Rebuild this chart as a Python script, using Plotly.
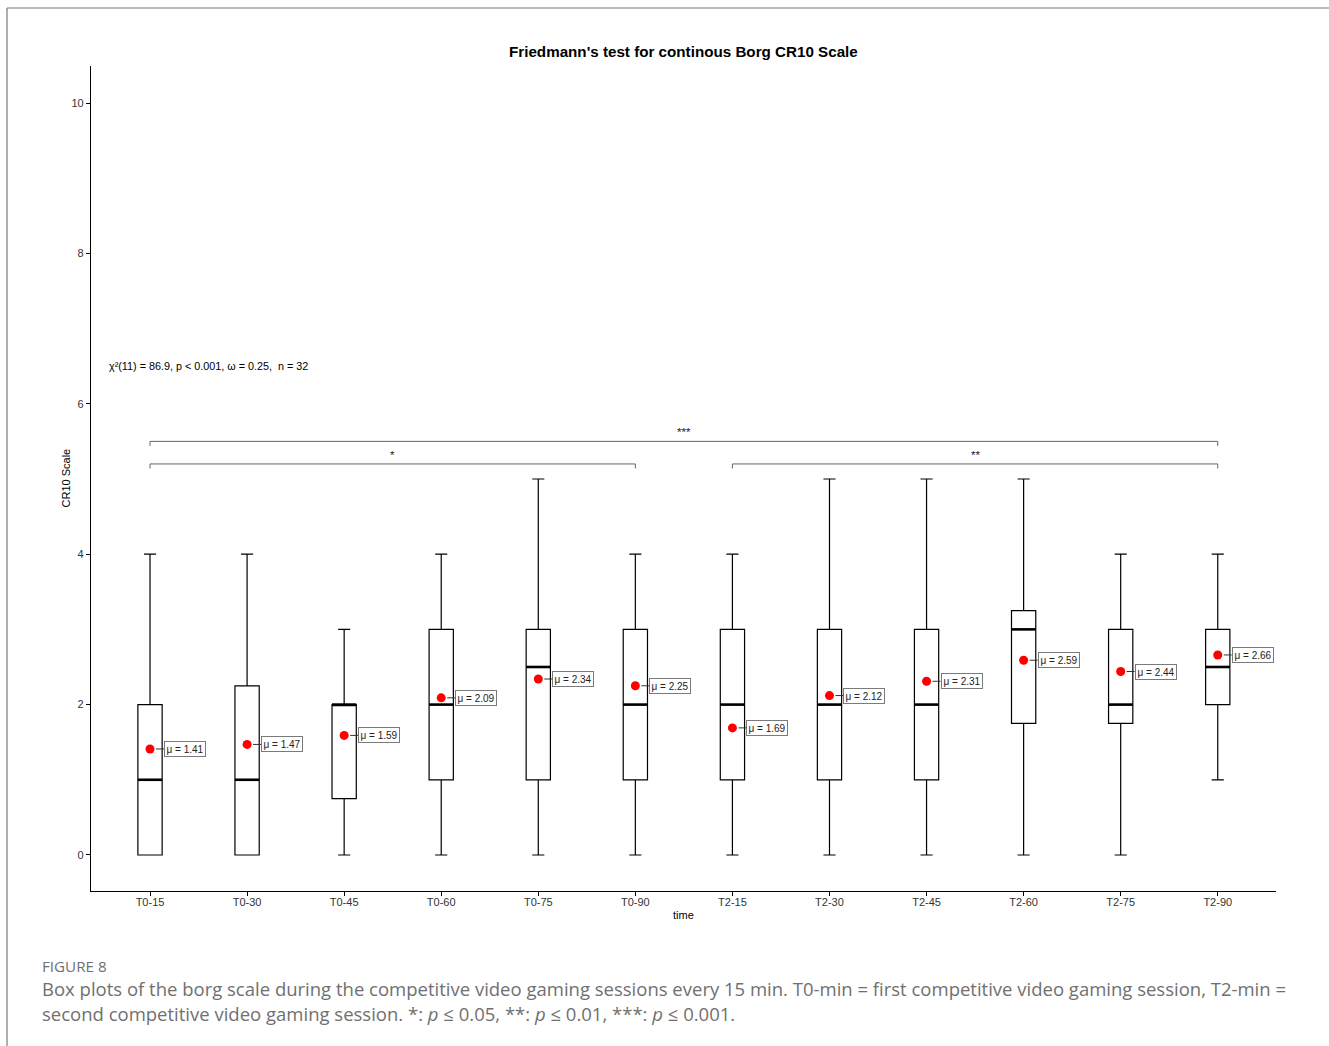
import plotly.graph_objects as go

# Time points of the two gaming sessions
categories = ["T0-15", "T0-30", "T0-45", "T0-60", "T0-75", "T0-90",
              "T2-15", "T2-30", "T2-45", "T2-60", "T2-75", "T2-90"]

# Box-plot summary statistics of the Borg CR10 ratings
lower_whisker = [0, 0, 0, 0, 0, 0, 0, 0, 0, 0, 0, 1]
q1_values     = [0, 0, 0.75, 1, 1, 1, 1, 1, 1, 1.75, 1.75, 2]
median_values = [1, 1, 2, 2, 2.5, 2, 2, 2, 2, 3, 2, 2.5]
q3_values     = [2, 2.25, 2, 3, 3, 3, 3, 3, 3, 3.25, 3, 3]
upper_whisker = [4, 4, 3, 4, 5, 4, 4, 5, 5, 5, 4, 4]
mean_values   = [1.41, 1.47, 1.59, 2.09, 2.34, 2.25, 1.69, 2.12, 2.31, 2.59, 2.44, 2.66]

# Pairwise comparison brackets: (from, to, height, label)
brackets = [("T0-15", "T2-90", 5.5, "***"),
            ("T0-15", "T0-90", 5.2, "*"),
            ("T2-15", "T2-90", 5.2, "**")]

stats_text = "χ²(11) = 86.9, p < 0.001, ω = 0.25,  n = 32"
title_text = "Friedmann's test for continous Borg CR10 Scale"
y_ticks = [0, 2, 4, 6, 8, 10]

W, H = 1329, 1046
ML, MR, MT, MB = 91, 53, 66, 155
box_width = 0.25
SANS = "Liberation Sans, Arial"
CAP_FONT = "Open Sans"

pos = list(range(len(categories)))
idx = {c: i for i, c in enumerate(categories)}

fig = go.Figure()

fig.add_trace(go.Box(
    x=pos, q1=q1_values, median=median_values, q3=q3_values,
    lowerfence=lower_whisker, upperfence=upper_whisker,
    width=box_width, whiskerwidth=0.5, boxpoints=False,
    fillcolor="white", line=dict(color="black", width=1.2),
    hoverinfo="skip", showlegend=False,
))

# Bold median lines
mx, my = [], []
for i, m in zip(pos, median_values):
    mx += [i - box_width / 2, i + box_width / 2, None]
    my += [m, m, None]
fig.add_trace(go.Scatter(x=mx, y=my, mode="lines",
                         line=dict(color="black", width=2.6),
                         hoverinfo="skip", showlegend=False))

# Means
fig.add_trace(go.Scatter(x=pos, y=mean_values, mode="markers",
                         marker=dict(color="#ff0000", size=9),
                         hoverinfo="skip", showlegend=False))

annotations = []
for i, m in zip(pos, mean_values):
    annotations.append(dict(
        x=i, y=m, xref="x", yref="y", text=f"μ = {m:.2f}",
        showarrow=True, arrowhead=0, arrowwidth=1, arrowcolor="#333333",
        ax=14, ay=0, xanchor="left", yanchor="middle", standoff=6,
        font=dict(family=SANS, size=10, color="#222222"),
        bordercolor="#7a7a7a", borderwidth=1, borderpad=1.5, bgcolor="white",
    ))

# Significance brackets
tip = 0.06
for a, b, h, lab in brackets:
    xa, xb = idx[a], idx[b]
    fig.add_trace(go.Scatter(x=[xa, xa, xb, xb], y=[h - tip, h, h, h - tip],
                             mode="lines", line=dict(color="#666666", width=1),
                             hoverinfo="skip", showlegend=False))
    annotations.append(dict(x=(xa + xb) / 2, y=h, xref="x", yref="y",
                            text=lab, showarrow=False, yanchor="bottom", yshift=1,
                            font=dict(family=SANS, size=11.5, color="#222222")))

pw, ph = W - ML - MR, H - MT - MB

def px_x(px):
    return (px - ML) / pw

def px_y(py):
    return 1 - (py - MT) / ph

annotations += [
    dict(x=0.5, y=px_y(51), xref="paper", yref="paper", text=f"<b>{title_text}</b>",
         showarrow=False, xanchor="center", yanchor="middle",
         font=dict(family=SANS, size=15.2, color="black")),
    dict(x=px_x(107), y=px_y(366), xref="paper", yref="paper", text=stats_text,
         showarrow=False, xanchor="left", yanchor="middle",
         font=dict(family=SANS, size=10.8, color="black")),
    dict(x=0.5, y=px_y(915), xref="paper", yref="paper", text="time",
         showarrow=False, xanchor="center", yanchor="middle",
         font=dict(family=SANS, size=11, color="black")),
    dict(x=px_x(65), y=0.5, xref="paper", yref="paper", text="CR10 Scale",
         showarrow=False, textangle=-90, xanchor="center", yanchor="middle",
         font=dict(family=SANS, size=11, color="black")),
    dict(x=px_x(40), y=px_y(966), xref="paper", yref="paper", text="FIGURE 8",
         showarrow=False, xanchor="left", yanchor="middle",
         font=dict(family=CAP_FONT, size=15.2, color="#707070")),
    dict(x=px_x(40), y=px_y(988), xref="paper", yref="paper",
         text="Box plots of the borg scale during the competitive video gaming sessions every 15 min. "
              "T0-min = first competitive video gaming session, T2-min =",
         showarrow=False, xanchor="left", yanchor="middle",
         font=dict(family=CAP_FONT, size=18.5, color="#707070")),
    dict(x=px_x(40), y=px_y(1013), xref="paper", yref="paper",
         text="second competitive video gaming session. *: <i>p</i> ≤ 0.05, **: <i>p</i> ≤ 0.01, "
              "***: <i>p</i> ≤ 0.001.",
         showarrow=False, xanchor="left", yanchor="middle",
         font=dict(family=CAP_FONT, size=18.5, color="#707070")),
]

# Outer frame (top and left edges)
shapes = [
    dict(type="line", xref="paper", yref="paper", x0=px_x(7), x1=px_x(W), y0=px_y(8), y1=px_y(8),
         line=dict(color="#7a7a7a", width=1.2)),
    dict(type="line", xref="paper", yref="paper", x0=px_x(7), x1=px_x(7), y0=px_y(8), y1=px_y(H),
         line=dict(color="#7a7a7a", width=1.2)),
]

fig.update_layout(
    width=W, height=H,
    margin=dict(l=ML, r=MR, t=MT, b=MB),
    paper_bgcolor="white", plot_bgcolor="white",
    annotations=annotations, shapes=shapes,
    font=dict(family=SANS),
)
fig.update_xaxes(range=[-0.608, 11.6], tickvals=pos, ticktext=categories,
                 showline=True, linecolor="black", linewidth=1.2,
                 ticks="outside", ticklen=4, tickcolor="black",
                 ticklabelstandoff=-3,
                 showgrid=False, zeroline=False,
                 tickfont=dict(family=SANS, size=11, color="#333333"))
fig.update_yaxes(range=[-0.479, 10.492], tickvals=y_ticks,
                 showline=True, linecolor="black", linewidth=1.2,
                 ticks="outside", ticklen=4, tickcolor="black",
                 showgrid=False, zeroline=False,
                 tickfont=dict(family=SANS, size=11, color="#333333"))

fig.write_html("out.html")
